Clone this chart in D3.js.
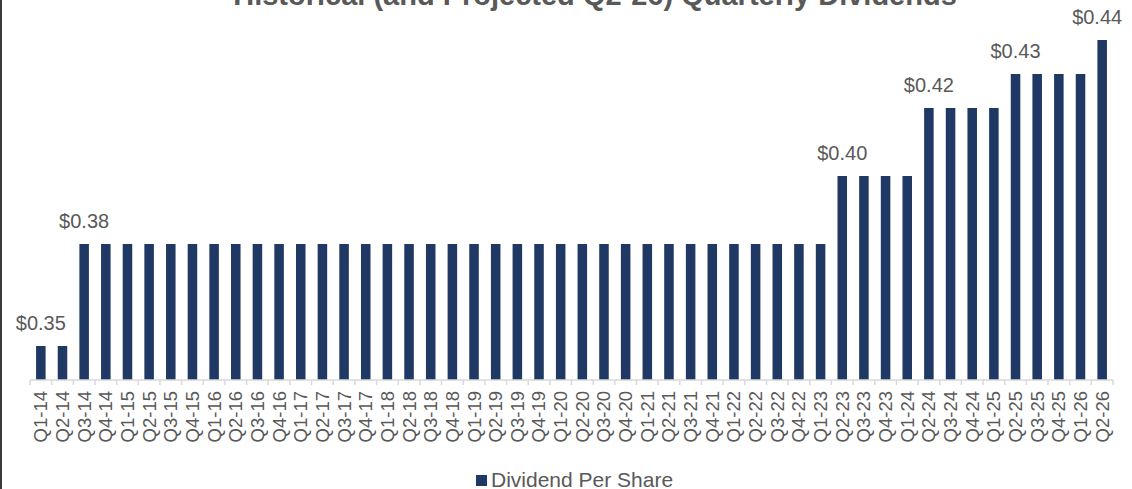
<!DOCTYPE html>
<html lang="en">
<head>
<meta charset="UTF-8">
<title>Quarterly Dividends</title>
<script src="https://d3js.org/d3.v7.min.js"></script>
<style>
  html, body { margin: 0; padding: 0; background: #fff; }
  svg { display: block; font-family: Arial, "Liberation Sans", sans-serif; }
</style>
</head>
<body>
<div id="chart"></div>
<script>
  // quarters Q1-14 .. Q2-26
  const quarters = [
    "Q1-14","Q2-14","Q3-14","Q4-14",
    "Q1-15","Q2-15","Q3-15","Q4-15",
    "Q1-16","Q2-16","Q3-16","Q4-16",
    "Q1-17","Q2-17","Q3-17","Q4-17",
    "Q1-18","Q2-18","Q3-18","Q4-18",
    "Q1-19","Q2-19","Q3-19","Q4-19",
    "Q1-20","Q2-20","Q3-20","Q4-20",
    "Q1-21","Q2-21","Q3-21","Q4-21",
    "Q1-22","Q2-22","Q3-22","Q4-22",
    "Q1-23","Q2-23","Q3-23","Q4-23",
    "Q1-24","Q2-24","Q3-24","Q4-24",
    "Q1-25","Q2-25","Q3-25","Q4-25",
    "Q1-26","Q2-26"
  ];

  const dividends = [
    0.35, 0.35, 0.38, 0.38,
    0.38, 0.38, 0.38, 0.38,
    0.38, 0.38, 0.38, 0.38,
    0.38, 0.38, 0.38, 0.38,
    0.38, 0.38, 0.38, 0.38,
    0.38, 0.38, 0.38, 0.38,
    0.38, 0.38, 0.38, 0.38,
    0.38, 0.38, 0.38, 0.38,
    0.38, 0.38, 0.38, 0.38,
    0.38, 0.40, 0.40, 0.40,
    0.40, 0.42, 0.42, 0.42,
    0.42, 0.43, 0.43, 0.43,
    0.43, 0.44
  ];

  // only the first quarter of each new rate gets a label
  const labelledQuarters = ["Q1-14", "Q3-14", "Q2-23", "Q2-24", "Q2-25", "Q2-26"];

  const title = "Historical (and Projected Q2-26) Quarterly Dividends";
  const seriesName = "Dividend Per Share";

  const width = 1132, height = 489;
  const barColor = "#1f3864";
  const textColor = "#595959";

  const svg = d3.select("#chart").append("svg")
    .attr("width", width)
    .attr("height", height);

  // left frame line
  svg.append("line")
    .attr("x1", 1).attr("x2", 1)
    .attr("y1", 0).attr("y2", height)
    .attr("stroke", "#3a3a3a")
    .attr("stroke-width", 2);

  const x = d3.scaleBand()
    .domain(quarters)
    .range([30, 1113])
    .paddingInner(0.56)
    .paddingOuter(0.28);

  const y = d3.scaleLinear()
    .domain([0.34, 0.45])
    .range([380, 6]);

  // title (cut off at the top, like the original)
  svg.append("text")
    .attr("x", 595)
    .attr("y", 5)
    .attr("text-anchor", "middle")
    .attr("font-size", 29)
    .attr("font-weight", "bold")
    .attr("fill", textColor)
    .text(title);

  const data = quarters.map((q, i) => ({ q, v: dividends[i] }));

  svg.append("g")
    .selectAll("rect")
    .data(data)
    .join("rect")
    .attr("x", d => x(d.q))
    .attr("width", x.bandwidth())
    .attr("y", d => y(d.v))
    .attr("height", d => y(0.34) - y(d.v))
    .attr("fill", barColor);

  // value labels
  svg.append("g")
    .selectAll("text")
    .data(data.filter(d => labelledQuarters.includes(d.q)))
    .join("text")
    .attr("x", d => x(d.q) + x.bandwidth() / 2 - (d.q === "Q2-26" ? 5 : 0))
    .attr("y", d => y(d.v) - 16)
    .attr("text-anchor", "middle")
    .attr("font-size", 20)
    .attr("fill", textColor)
    .text(d => "$" + d.v.toFixed(2));

  // x axis
  const axis = svg.append("g")
    .attr("transform", "translate(0,380)");

  axis.append("line")
    .attr("x1", 30).attr("x2", 1113)
    .attr("stroke", "#d9d9d9")
    .attr("stroke-width", 1.5);

  const step = x.step();
  const edges = d3.range(quarters.length + 1).map(i => 30 + i * step);
  axis.selectAll("line.tick")
    .data(edges)
    .join("line")
    .attr("class", "tick")
    .attr("x1", d => d).attr("x2", d => d)
    .attr("y1", 0).attr("y2", 5)
    .attr("stroke", "#d9d9d9")
    .attr("stroke-width", 1.5);

  axis.selectAll("text")
    .data(quarters)
    .join("text")
    .attr("transform", d => `translate(${x(d) + x.bandwidth() / 2},11) rotate(-90)`)
    .attr("dy", "0.35em")
    .attr("text-anchor", "end")
    .attr("font-size", 18.5)
    .attr("fill", textColor)
    .text(d => d);

  // legend
  const legend = svg.append("g").attr("transform", "translate(476,475)");
  legend.append("rect")
    .attr("width", 11).attr("height", 11)
    .attr("fill", barColor);
  legend.append("text")
    .attr("x", 15)
    .attr("y", 12)
    .attr("font-size", 21)
    .attr("fill", textColor)
    .text(seriesName);
</script>
</body>
</html>
